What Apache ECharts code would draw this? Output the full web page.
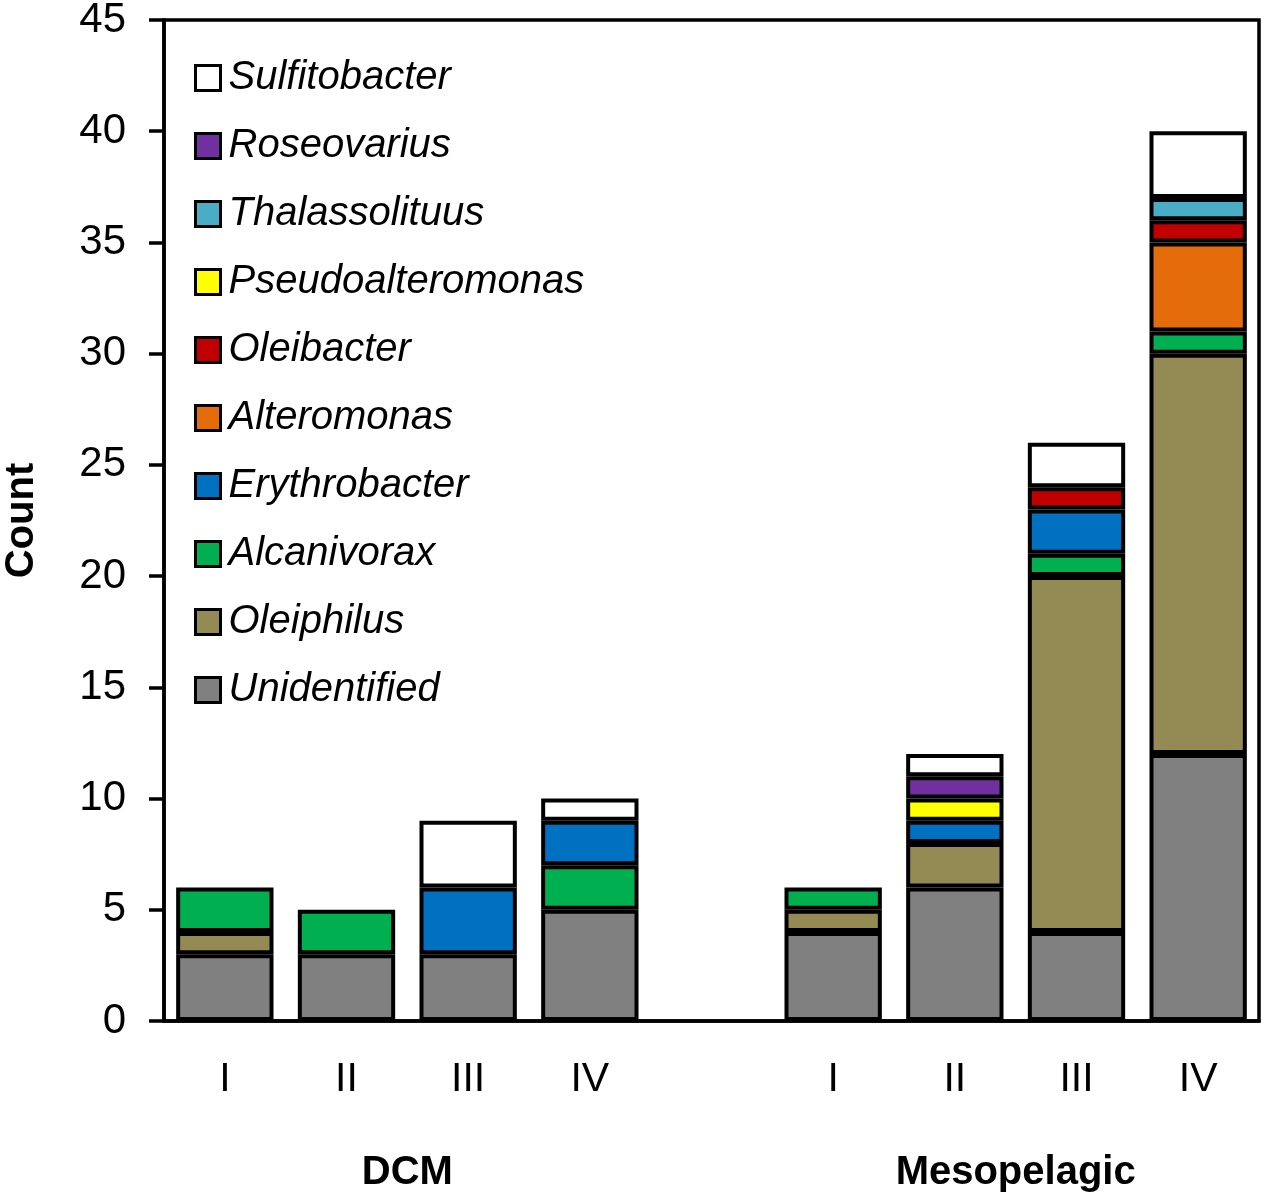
<!DOCTYPE html>
<html>
<head>
<meta charset="UTF-8" />
<title>Count by depth and stage</title>
<script src="https://cdn.jsdelivr.net/npm/echarts@6/dist/echarts.min.js"></script>
<style type="text/css">
body{
	margin: 0px;
	background: #fff;
}
#chart{
	width: 1267px;
	height: 1199px;
}
</style>
</head>
<body>

<div id="chart"></div>

<script type="text/javascript">

// slot 4 is the empty gap between the two groups
var categories = ['I', 'II', 'III', 'IV', '', 'I', 'II', 'III', 'IV'];
var groupLabels = ['DCM', 'Mesopelagic'];
var groupPositions = [1.5, 6.5];
var yTicks = [0, 45, 5];

// bottom to top
var unidentified      = [3, 3, 3, 5, 0, 4, 6, 4, 12];
var oleiphilus        = [1, 0, 0, 0, 0, 1, 2, 16, 18];
var alcanivorax       = [2, 2, 0, 2, 0, 1, 0, 1, 1];
var erythrobacter     = [0, 0, 3, 2, 0, 0, 1, 2, 0];
var alteromonas       = [0, 0, 0, 0, 0, 0, 0, 0, 4];
var oleibacter        = [0, 0, 0, 0, 0, 0, 0, 1, 1];
var pseudoalteromonas = [0, 0, 0, 0, 0, 0, 1, 0, 0];
var thalassolituus    = [0, 0, 0, 0, 0, 0, 0, 0, 1];
var roseovarius       = [0, 0, 0, 0, 0, 0, 1, 0, 0];
var sulfitobacter     = [0, 0, 3, 1, 0, 0, 1, 2, 3];

var layers = [
	['Unidentified', unidentified, '#808080'],
	['Oleiphilus', oleiphilus, '#948A54'],
	['Alcanivorax', alcanivorax, '#00B050'],
	['Erythrobacter', erythrobacter, '#0070C0'],
	['Alteromonas', alteromonas, '#E46C0A'],
	['Oleibacter', oleibacter, '#C00000'],
	['Pseudoalteromonas', pseudoalteromonas, '#FFFF00'],
	['Thalassolituus', thalassolituus, '#4BACC6'],
	['Roseovarius', roseovarius, '#7030A0'],
	['Sulfitobacter', sulfitobacter, '#FFFFFF']
];

var font = 'Liberation Sans';

var series = layers.map(function(l){
	return {
		name: l[0],
		type: 'bar',
		stack: 'total',
		barWidth: '80%',
		// skip empty segments so no zero-height border is drawn
		data: l[1].map(function(v){ return v === 0 ? '-' : v; }),
		itemStyle: {color: l[2], borderColor: '#000', borderWidth: 4},
		emphasis: {disabled: true}
	};
});

var option = {
	animation: false,
	backgroundColor: '#fff',
	grid: {
		left: 164, right: 8, top: 20, bottom: 178,
		outerBoundsMode: 'none',
		containLabel: false,
		show: true, borderColor: '#000', borderWidth: 3.5
	},
	legend: {
		orient: 'vertical',
		left: 189, top: 53,
		itemWidth: 25, itemHeight: 25,
		itemGap: 28,
		icon: 'rect',
		selectedMode: false,
		data: layers.map(function(l){ return l[0]; }).reverse(),
		itemStyle: {borderColor: '#000', borderWidth: 3},
		textStyle: {
			fontFamily: font, fontSize: 40, fontStyle: 'italic',
			color: '#000', lineHeight: 40, padding: [0, 0, 0, 3]
		}
	},
	xAxis: [{
		type: 'category',
		data: categories,
		axisLine: {lineStyle: {color: '#000', width: 3.5}},
		axisTick: {show: false},
		axisLabel: {
			interval: 0, margin: 38, color: '#000',
			fontFamily: font, fontSize: 41
		}
	}, {
		type: 'value',
		position: 'bottom',
		min: -0.5, max: categories.length - 0.5,
		axisLine: {show: false},
		axisTick: {show: false},
		splitLine: {show: false},
		axisLabel: {
			customValues: groupPositions,
			margin: 132, color: '#000',
			fontFamily: font, fontSize: 40, fontWeight: 'bold',
			formatter: function(v){ return groupLabels[groupPositions.indexOf(v)]; }
		}
	}],
	yAxis: {
		type: 'value',
		min: yTicks[0], max: yTicks[1], interval: yTicks[2],
		name: 'Count',
		nameLocation: 'middle',
		nameRotate: 90,
		nameGap: 122,
		nameTextStyle: {fontFamily: font, fontSize: 40, fontWeight: 'bold', color: '#000'},
		axisLine: {show: true, onZero: false, lineStyle: {color: '#000', width: 3.5}},
		axisTick: {show: true, length: 15, lineStyle: {color: '#000', width: 3.5}},
		splitLine: {show: false},
		axisLabel: {margin: 38, color: '#000', fontFamily: font, fontSize: 42}
	},
	series: series
};

var myChart = echarts.init(document.getElementById('chart'));
myChart.setOption(option);

</script>

</body>
</html>
